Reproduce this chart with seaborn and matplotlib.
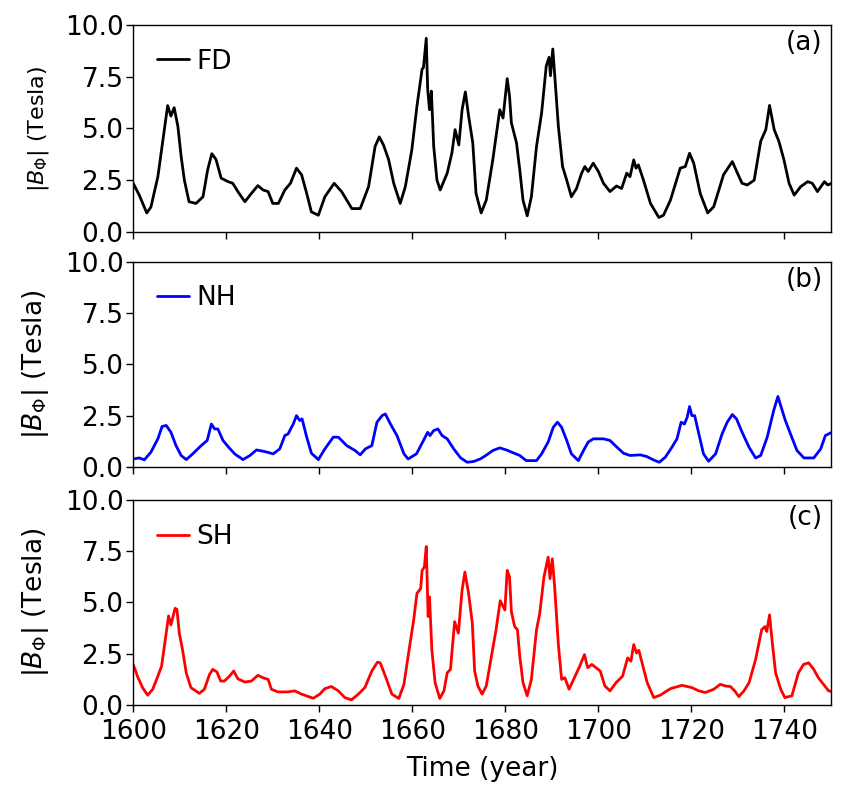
import matplotlib
matplotlib.use('Agg')
import matplotlib.pyplot as plt
import seaborn as sns
import pandas as pd

# full disk (FD)
fd_year = [1600, 1601.3, 1602.9, 1603.8, 1605.3, 1606.3, 1607.4, 1608.1, 1608.8, 1609.6,
           1610.3, 1611, 1612, 1613.5, 1615, 1616, 1616.9, 1617.8, 1618.9, 1620.4,
           1621.4, 1622.5, 1624, 1625.4, 1626.8, 1627.9, 1629, 1630, 1631.2, 1632.6,
           1633.8, 1635.1, 1636.2, 1637.3, 1638.3, 1639.8, 1641.2, 1643.2, 1644.8, 1647,
           1648.8, 1650.6, 1652, 1652.9, 1653.8, 1654.9, 1656, 1657.4, 1658.5, 1659.9,
           1661, 1662.1, 1662.4, 1663, 1663.3, 1663.7, 1664.1, 1664.6, 1665.3, 1666,
           1667.5, 1668.5, 1669.2, 1670, 1670.7, 1671.4, 1672.1, 1673, 1673.7, 1674.8,
           1675.9, 1677.3, 1678.8, 1679.5, 1680.4, 1680.9, 1681.3, 1682.4, 1683.1, 1683.8,
           1684.7, 1685.6, 1686.7, 1687.8, 1688.8, 1689.4, 1689.7, 1690.2, 1690.6, 1691.4,
           1692.3, 1693.2, 1694.2, 1695.3, 1696.4, 1697.1, 1697.8, 1698.9, 1700, 1701.1,
           1702.5, 1703.9, 1705, 1706.1, 1706.8, 1707.6, 1708.1, 1708.6, 1709.7, 1711.2,
           1713, 1714, 1715.5, 1717.6, 1718.7, 1719.6, 1720.5, 1721.9, 1723.5, 1724.8,
           1726.9, 1728.8, 1729.9, 1730.9, 1732, 1733.5, 1734.9, 1736, 1736.8, 1737.8,
           1738.8, 1739.9, 1741, 1742.1, 1743.5, 1745, 1746, 1747.1, 1748.6, 1749.3, 1750.2]
fd_val = [2.35, 1.78, 0.92, 1.2, 2.67, 4.3, 6.1, 5.6, 6.0, 5.1,
          3.65, 2.5, 1.46, 1.38, 1.7, 3.0, 3.78, 3.5, 2.6, 2.43,
          2.35, 1.95, 1.46, 1.86, 2.24, 2.03, 1.95, 1.38, 1.38, 2.03,
          2.35, 3.08, 2.76, 1.86, 0.97, 0.81, 1.7, 2.35, 1.95, 1.13,
          1.13, 2.19, 4.13, 4.59, 4.2, 3.5, 2.35, 1.38, 2.19, 3.97,
          6.08, 7.86, 7.94, 9.35, 6.9, 5.9, 6.8, 4.13, 2.5, 2.03,
          2.84, 3.8, 4.94, 4.2, 5.9, 6.76, 5.6, 4.3, 1.86, 0.92,
          1.54, 3.48, 5.9, 5.5, 7.4, 6.56, 5.27, 4.3, 3.0, 1.54,
          0.78, 1.7, 4.13, 5.75, 8.02, 8.43, 7.54, 8.83, 7.62, 5.1,
          3.16, 2.5, 1.7, 2.1, 2.84, 3.16, 2.92, 3.32, 2.92, 2.35,
          1.95, 2.22, 2.1, 2.84, 2.67, 3.48, 3.08, 3.24, 2.5, 1.38,
          0.7, 0.81, 1.54, 3.08, 3.16, 3.8, 3.32, 1.86, 0.92, 1.22,
          2.76, 3.4, 2.84, 2.35, 2.27, 2.5, 4.38, 4.94, 6.11, 4.94,
          4.38, 3.48, 2.35, 1.78, 2.19, 2.43, 2.35, 1.95, 2.43, 2.27, 2.35]

# northern hemisphere (NH)
nh_year = [1600, 1601.3, 1602.4, 1603.8, 1605.3, 1606.2, 1607.1, 1608.1, 1609.2, 1610.3,
           1611.4, 1612.8, 1614.6, 1615.9, 1616.8, 1617.5, 1618.2, 1619.3, 1620.4, 1621.8,
           1623.6, 1625.1, 1626.5, 1628.3, 1630.1, 1631.5, 1632.6, 1633.3, 1634.4, 1635.1,
           1635.8, 1636.3, 1637.3, 1638.3, 1639.8, 1641.2, 1643, 1644.1, 1645.9, 1647.7,
           1648.8, 1649.9, 1651.3, 1652.4, 1653.5, 1654.2, 1655.3, 1656.7, 1658.2, 1659.1,
           1660.9, 1662.4, 1663.3, 1663.8, 1664.6, 1665.5, 1666.4, 1667.5, 1668.9, 1670.4,
           1671.8, 1673.2, 1674.6, 1675.8, 1677.3, 1678.8, 1680.2, 1681.7, 1683.1, 1684.5,
           1686.7, 1687.8, 1689.2, 1690.3, 1691.2, 1692.1, 1693.2, 1694.2, 1695.7, 1696.8,
           1697.8, 1698.9, 1700, 1701.1, 1702.5, 1704, 1705.4, 1706.8, 1709, 1710.4,
           1711.8, 1713.1, 1714.4, 1715.8, 1716.9, 1717.8, 1718.5, 1719.1, 1719.6, 1720.1,
           1720.7, 1721.6, 1722.6, 1723.7, 1725.2, 1726.6, 1727.7, 1728.8, 1729.7, 1730.9,
           1732.4, 1733.8, 1734.9, 1736.3, 1737.7, 1738.6, 1739.3, 1740.2, 1741.3, 1742.7,
           1744.2, 1746.3, 1747.8, 1748.8, 1750.2]
nh_val = [0.4, 0.45, 0.36, 0.73, 1.38, 1.98, 2.03, 1.7, 1.05, 0.57,
          0.37, 0.65, 1.05, 1.3, 2.1, 1.86, 1.86, 1.3, 1.0, 0.65,
          0.37, 0.57, 0.84, 0.76, 0.65, 0.89, 1.54, 1.62, 2.1, 2.51,
          2.27, 2.35, 1.46, 0.68, 0.37, 0.89, 1.46, 1.46, 1.05, 0.81,
          0.6, 0.89, 1.05, 2.19, 2.51, 2.59, 2.1, 1.54, 0.65, 0.4,
          0.65, 1.3, 1.7, 1.54, 1.78, 1.86, 1.54, 1.38, 0.89, 0.45,
          0.24, 0.28, 0.4, 0.57, 0.81, 0.94, 0.84, 0.7, 0.57, 0.32,
          0.32, 0.65, 1.22, 1.94, 2.19, 1.94, 1.3, 0.65, 0.32, 0.81,
          1.22, 1.38, 1.38, 1.38, 1.3, 0.97, 0.68, 0.57, 0.6, 0.52,
          0.36, 0.24, 0.49, 0.97, 1.38, 2.19, 2.1, 2.43, 2.95, 2.51,
          2.51, 1.62, 0.65, 0.29, 0.65, 1.62, 2.19, 2.56, 2.35, 1.7,
          0.97, 0.45, 0.57, 1.46, 2.76, 3.44, 2.92, 2.27, 1.62, 0.81,
          0.45, 0.45, 0.89, 1.54, 1.7]

# southern hemisphere (SH)
sh_year = [1600, 1600.9, 1602, 1603.1, 1604.2, 1605.3, 1606.1, 1606.8, 1607.6, 1608.1,
           1609, 1609.4, 1609.9, 1610.6, 1611.4, 1612.4, 1614.2, 1615.3, 1616.4, 1617.1,
           1618, 1618.8, 1619.6, 1620.7, 1621.6, 1622.5, 1624, 1625.4, 1626.8, 1627.9,
           1629, 1629.7, 1631.1, 1633.3, 1634.7, 1636.2, 1638.7, 1640.1, 1641.2, 1642.6,
           1644.1, 1645.5, 1646.9, 1648.4, 1649.8, 1651.3, 1652.5, 1653.1, 1654.2, 1655.6,
           1657.1, 1658.2, 1659.2, 1660.3, 1661, 1661.8, 1662.1, 1662.6, 1663, 1663.4,
           1663.7, 1664.2, 1664.9, 1665.9, 1666.8, 1667.5, 1668.2, 1669.1, 1669.9, 1670.7,
           1671.3, 1672.1, 1672.9, 1673.4, 1674.1, 1675, 1675.9, 1676.9, 1678, 1678.9,
           1679.9, 1680.4, 1680.9, 1681.3, 1682, 1682.6, 1683.1, 1683.8, 1684.7, 1685.6,
           1686.7, 1687.4, 1688.3, 1689.2, 1689.6, 1690.1, 1690.6, 1691.4, 1692.1, 1692.8,
           1693.7, 1695, 1696, 1697, 1697.7, 1698.6, 1699.5, 1700.4, 1701.4, 1702.5,
           1703.8, 1705.2, 1706.3, 1707, 1707.6, 1708.2, 1708.7, 1709.4, 1710.5, 1711.9,
           1713.3, 1715.5, 1718, 1720.1, 1721.6, 1723, 1724.8, 1726.2, 1727.3, 1728.4,
           1729.3, 1730.2, 1731.3, 1732.4, 1733.8, 1735.1, 1735.8, 1736.2, 1736.8, 1737.4,
           1738.1, 1739.2, 1740.1, 1741.6, 1743, 1744.1, 1745.2, 1746.3, 1747.3, 1748.4,
           1749.5, 1750.2]
sh_val = [1.97, 1.4, 0.84, 0.47, 0.76, 1.4, 1.89, 3.02, 4.34, 3.9,
          4.71, 4.66, 3.5, 2.69, 1.56, 0.84, 0.56, 0.76, 1.48, 1.73,
          1.6, 1.16, 1.16, 1.4, 1.65, 1.27, 1.11, 1.16, 1.44, 1.32,
          1.24, 0.76, 0.63, 0.63, 0.68, 0.52, 0.32, 0.52, 0.79, 0.89,
          0.68, 0.35, 0.24, 0.52, 0.84, 1.65, 2.08, 2.05, 1.4, 0.52,
          0.31, 1.0, 2.53, 4.15, 5.44, 5.68, 6.56, 6.73, 7.73, 4.31,
          5.27, 2.69, 1.08, 0.31, 0.68, 1.56, 1.73, 4.06, 3.5, 5.6,
          6.48, 5.44, 3.98, 1.65, 0.92, 0.52, 0.92, 2.21, 3.66, 5.08,
          4.63, 6.56, 6.24, 4.55, 3.82, 3.66, 2.37, 1.08, 0.44, 1.24,
          3.66, 4.47, 6.24, 7.21, 6.16, 7.13, 5.76, 2.94, 1.24, 1.32,
          0.76, 1.4, 1.89, 2.45, 1.81, 1.97, 1.81, 1.65, 0.92, 0.68,
          1.08, 1.4, 2.29, 2.13, 2.94, 2.53, 2.66, 2.05, 1.08, 0.35,
          0.47, 0.79, 0.95, 0.84, 0.68, 0.6, 0.76, 1.0, 0.92, 0.89,
          0.68, 0.4, 0.68, 1.08, 2.21, 3.66, 3.82, 3.58, 4.39, 3.02,
          1.56, 0.76, 0.35, 0.44, 1.56, 1.97, 2.05, 1.73, 1.32, 1.0,
          0.68, 0.65]

series = [(fd_year, fd_val, 'FD', 'black', '(a)'),
          (nh_year, nh_val, 'NH', 'blue', '(b)'),
          (sh_year, sh_val, 'SH', 'red', '(c)')]

yticks = [0.0, 2.5, 5.0, 7.5, 10.0]
xticks = [1600, 1620, 1640, 1660, 1680, 1700, 1720, 1740]

sns.set_style('ticks')
plt.rcParams['font.family'] = ['DejaVu Sans']
plt.rcParams['text.color'] = 'black'
plt.rcParams['axes.labelcolor'] = 'black'

fig = plt.figure(figsize=(8.54, 8.0), dpi=100)
boxes = [[0.156, 0.710, 0.817, 0.259],
         [0.156, 0.416, 0.817, 0.257],
         [0.156, 0.119, 0.817, 0.256]]

for i, (yr, val, name, col, tag) in enumerate(series):
    ax = fig.add_axes(boxes[i])
    df = pd.DataFrame({'year': yr, 'B': val})
    sns.lineplot(data=df, x='year', y='B', ax=ax, color=col, linewidth=2,
                 label=name, sort=False)
    ax.set_xlim(1600, 1750)
    ax.set_ylim(0, 10)
    ax.set_yticks(yticks)
    ax.set_yticklabels(['%.1f' % t for t in yticks])
    ax.set_xticks(xticks)
    ax.tick_params(labelsize=19, length=5, width=1, colors='black')
    ax.tick_params(axis='y', pad=2)
    ax.tick_params(axis='x', pad=5)
    for s in ax.spines.values():
        s.set_linewidth(1)
        s.set_color('black')
    ax.set_ylabel(r'$|B_{\Phi}|$ (Tesla)', fontsize=16 if i == 0 else 19, labelpad=10)
    if i < 2:
        ax.set_xlabel('')
        ax.set_xticklabels([])
    else:
        ax.set_xlabel('Time (year)', fontsize=19, labelpad=8)
    leg = ax.legend(loc='upper left', frameon=False, fontsize=19, handlelength=1.2,
                    handletextpad=0.3, borderaxespad=0.5, borderpad=0.4)
    for t in leg.get_texts():
        t.set_color('black')
    ax.text(0.988, 0.975, tag, transform=ax.transAxes, ha='right', va='top',
            fontsize=19, color='black')

fig.savefig('out.png', dpi=100)
